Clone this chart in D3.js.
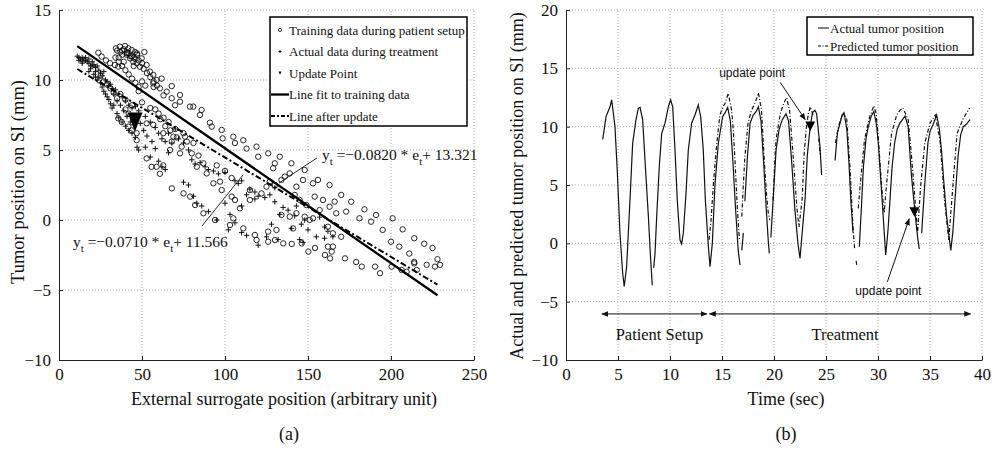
<!DOCTYPE html>
<html lang="en">
<head>
<meta charset="UTF-8">
<title>Tumor position vs surrogate</title>
<script src="https://cdn.jsdelivr.net/npm/d3@7"></script>
<style>
    body { margin: 0; background: #fff; }
    svg text { font-family: "Liberation Serif", "Times New Roman", serif; fill: #111; }
    .grid line { stroke: #999; stroke-dasharray: 1,2; stroke-width: 0.8; }
    .axis path, .axis line { stroke: #222; stroke-width: 1; }
    .axis text { font-size: 17px; }
    .sans { font-family: "Liberation Sans", Arial, sans-serif !important; }
</style>
</head>
<body>
<svg id="chart" width="994" height="450"></svg>
<script>
'use strict';

/*
 * (a) scatter of tumor position vs external surrogate, with the two fit lines
 * (b) actual vs predicted tumor position over time
 */

// ---- panel (a) data ----
const trainE = [23.7,25.7,28.3,30.7,33.7,35.7,34.3,36.7,39.8,41.8,43.8,45.8,40.8,42.8,44.8,46.8,48.8,51.4,49.8,52.8,
    54.8,56.8,58.8,61.8,56.8,60.8,64.9,67.9,67.9,72.9,72.9,69.9,78.9,80.9,84.9,85.9,90.9,92,98,98.6,
    105,106,111,113,119,120,126,133,130,129,140,148,147,153,156,163,170,176,184,191,
    201,207,214,220,225,228,229.5,226.5,221.5,214,215.5,209.4,206.4,200.4,193.4,190.4,182.4,179,172.3,163.3,
    164.3,160.2,150.2,154.2,146.2,140.2,135.1,130.1,126,119,118,111,103,105,94,87,82,79,75,68,
    58.8,52.8,55.8,62.8,60.8,66.9,72.9,73.9,75.9,68.9,62.8,56.8,52.8,46.8,46.8,43.8,35.7,37.8,41.8,67.9,
    81,80,83,87,89,93,97,98,104,106,109,115,115,122,125,130,127,136,139,134,
    143,142,145,149,154,159,163,166,167,157,153,148,143,139,134,131,126,141,151,162,
    165,170,165,162,173,181,188,195,200,205,211,214,37,40,44,48,50,55,60,63,
    66,70,75,57,63,38,41,36,44,47,39,45,
    35,37,38,39,41,42,43,45,46,47,48,50,51,53,55,57,59,34,36,38,
    40,42,44,46,48,50,52,25,27,29,31,33,35,40,42,58,61,64,67,71,
    77,84,95,100,104];
const trainV = [11.95,11.67,11.4,11.2,11.07,10.95,12.26,12.38,12.43,12.26,12.14,12.0,11.8,11.55,11.3,11.2,10.95,12.0,11.55,11.07,
    10.6,10.36,10.0,10.1,9.76,9.4,9.17,9.57,8.7,8.93,8.45,8.2,8.1,8.1,7.5,7.86,6.95,6.67,6.43,5.83,
    5.95,5.5,5.7,5.1,5.24,4.52,4.76,4.52,4.05,3.7,4.05,3.57,2.86,2.62,2.86,2.5,1.79,1.31,0.76,0.36,
    0.12,-0.67,-1.3,-1.7,-2.0,-2.8,-3.2,-3.33,-3.2,-3.0,-3.57,-3.7,-3.57,-3.33,-3.8,-3.33,-3.33,-3.0,-2.74,-2.74,
    -2.26,-2.5,-2.26,-2.0,-1.67,-1.71,-1.67,-1.43,-1.55,-1.43,-1.07,-0.6,-0.36,0.12,0.0,0.48,1.07,1.67,1.9,2.26,
    3.8,4.4,3.8,3.9,3.3,5.0,4.76,5.24,5.95,5.95,6.2,6.8,6.9,6.2,5.7,6.4,7.26,7.0,6.67,5.6,
    5.5,4.76,3.8,4.05,3.33,2.62,2.74,2.14,1.67,1.43,0.83,1.43,2.14,1.9,2.38,2.5,2.74,3.1,3.33,2.86,
    2.38,1.79,1.43,1.07,1.67,1.43,0.95,1.31,0.48,0.71,0.12,0.24,0.48,0.24,0.36,-0.71,-0.83,-0.6,0.0,-0.48,
    -0.95,-1.2,-1.9,-1.9,0.6,0.12,-0.12,-0.71,-1.55,-1.9,-2.4,-3.1,9.0,8.6,8.2,9.2,8.4,8.0,7.6,7.3,
    7.0,6.5,6.2,9.5,8.9,12.1,11.9,11.6,11.7,11.9,11.3,11.0,
    12.1,12.0,11.8,12.2,12.0,11.9,11.7,11.6,11.5,11.8,11.4,11.2,10.8,10.5,10.2,9.9,9.6,11.6,11.3,11.0,
    10.7,10.4,10.1,9.8,9.5,9.9,9.6,10.3,9.9,9.7,9.4,9.1,8.7,7.9,7.6,7.9,7.2,6.7,6.4,5.9,
    5.6,4.6,3.9,3.5,3.0];

const treatE = [11,12,13,14,15,16,17,18,19,20,21,22,23,24,25,24,25,26,27,28,
    29,30,31,32,33,35,36,38,40,42,44,46,47,48,28,30,32,34,36,38,
    40,42,44,46,48,52,55,58,60,62,64,52,55,60,62,64,58,66,70,72,
    75,78,80,82,85,88,90,93,96,100,75,78,81,83,86,90,103,106,108,110,
    115,118,120,124,127,130,135,138,143,140,146,150,155,160,165,162,102,110,113,120,
    125,128,132,145,147,133,142,148,157,160,110,113,118,130,100,106,95,14,18,22,
    12,14,16,18,20,22,19,21,23,26,27,29,31,33,35,37,39,41,43,45,
    49,51,53,56,66,68];
const treatV = [11.7,11.6,11.5,11.6,11.5,11.4,11.3,11.2,11.0,11.3,11.1,10.9,11.0,10.7,10.5,10.2,9.8,9.5,9.2,9.0,
    8.8,8.6,8.3,8.0,8.2,7.6,7.3,7.0,6.7,6.4,6.2,5.9,5.2,5.0,10.0,9.6,9.4,9.3,9.0,8.8,
    8.5,8.2,8.0,8.1,7.8,7.4,7.0,6.6,6.2,5.8,5.6,5.2,4.5,4.2,3.8,3.6,5.1,4.8,6.5,5.8,
    5.5,5.0,4.3,4.0,4.1,3.8,3.6,3.5,3.3,3.4,2.7,2.5,1.7,1.2,1.0,0.6,0.4,2.8,2.6,2.8,
    2.2,2.0,1.7,1.6,1.8,1.3,0.9,0.7,1.0,-0.6,-0.3,-0.7,-1.2,-1.3,-1.2,-0.8,-0.7,-0.9,-1.1,-1.8,
    -1.2,-0.3,-1.4,-1.4,-1.6,0.4,0.3,0.0,0.2,-0.5,1.0,1.8,1.5,2.3,1.2,-0.2,0.0,11.2,10.6,10.2,
    11.4,11.3,11.6,11.5,11.0,10.6,10.8,10.4,10.0,10.3,10.6,9.9,9.7,9.0,8.5,8.2,7.8,7.4,7.0,6.8,
    6.9,6.4,6.0,5.6,6.2,5.5];

const updatePointA = [45.8, 7.0];
const fitRange = [11, 228];
const fitTraining = [-0.0820, 13.321];  // slope, intercept
const fitUpdated = [-0.0710, 11.566];

const xTicksA = [0, 50, 100, 150, 200, 250];
const yTicksA = [-10, -5, 0, 5, 10, 15];

// ---- panel (b) data (null = gap in the trace) ----
const actualTime = [3.53,3.85,4.23,4.39,4.71,4.94,5.19,5.45,5.6,5.83,6.15,6.41,6.73,6.96,7.12,7.37,7.63,7.92,8.14,8.3,
    8.36,8.43,8.56,8.72,8.97,9.2,9.52,9.84,10.06,10.26,10.48,10.7,10.96,11.12,11.28,11.54,11.76,12.08,12.4,12.72,
    12.95,13.2,13.4,13.69,13.85,14.07,14.33,14.65,15.06,15.3,15.55,15.8,16.05,16.3,16.55,16.73,16.8,16.9,17.05,17.12,
    17.2,17.45,17.7,18.0,18.3,18.5,18.75,19.0,19.25,19.45,19.55,19.62,19.7,19.9,20.2,20.5,20.8,21.15,21.4,21.7,
    22.0,22.3,22.5,22.7,22.98,23.2,23.46,23.7,23.94,24.1,24.42,24.58,25.0,25.87,26.1,26.35,26.55,26.73,27.0,27.2,
    27.4,27.6,27.9,28.2,28.4,28.6,28.85,29.07,29.35,29.6,29.85,30.03,30.3,30.5,30.74,30.95,31.15,31.35,31.6,31.85,
    32.1,32.35,32.6,32.9,33.2,33.56,33.8,33.97,34.08,34.2,34.5,34.8,35.0,35.3,35.64,35.9,36.1,36.35,36.6,37.0,
    37.2,37.4,37.7,37.95,38.2,38.5,38.85];
const actualPos = [8.9,10.86,11.7,12.3,10.0,6.0,0.86,-2.57,-3.7,-2.0,3.7,8.6,10.6,11.57,11.66,10.6,6.6,2.3,-1.4,-3.6,
    null,-2.1,-0.86,2.3,6.6,9.4,10.3,11.7,12.3,11.7,8.0,3.7,0.3,-0.06,0.86,4.3,8.0,10.3,11.0,11.86,
    10.86,8.0,3.7,-0.29,-2.0,0.0,5.1,8.6,10.86,11.2,11.66,10.5,7.0,3.0,-0.5,-1.86,null,-0.6,0.9,null,
    3.6,7.5,10.3,11.0,11.3,11.7,10.5,7.0,3.0,0.2,-0.86,null,0.5,3.5,8.0,9.8,10.6,11.1,10.5,7.0,
    3.0,0.0,-1.3,0.8,3.7,7.5,9.86,11.2,11.4,11.1,8.3,5.86,null,7.1,9.5,10.3,11.0,11.2,9.8,7.0,
    3.5,0.9,null,-0.3,3.0,6.6,9.0,10.0,10.9,11.3,10.2,8.6,5.0,2.3,-1.0,1.0,3.7,6.5,8.6,9.8,
    10.3,10.6,10.9,10.0,6.0,2.6,0.6,-0.5,null,0.86,5.1,8.6,9.6,10.2,11.0,9.8,8.0,5.0,2.3,-0.6,
    1.0,3.7,7.5,9.3,10.0,10.2,10.6];

const predictedTime = [13.75,13.95,14.17,14.5,14.8,15.1,15.3,15.6,15.93,16.1,16.25,16.47,16.67,16.78,16.9,17.05,17.2,17.5,17.8,18.0,
    18.25,18.5,18.8,19.1,19.3,19.45,19.6,19.75,19.9,20.05,20.2,20.6,20.9,21.2,21.5,21.85,22.2,22.4,22.7,22.9,
    23.1,23.3,23.5,23.8,24.0,24.3,24.45,25.0,25.9,26.2,26.45,26.7,27.0,27.3,27.6,27.75,27.82,27.9,27.97,28.03,
    28.1,28.3,28.7,29.2,29.6,29.8,30.0,30.35,30.6,30.8,31.3,31.8,32.1,32.4,32.9,33.2,33.56,33.8,34.1,34.5,
    35.0,35.5,35.96,36.4,36.8,37.2,37.6,38.2,38.8];
const predictedPos = [0.3,2.0,5.1,8.6,11.0,11.7,12.0,12.86,11.4,9.5,7.1,3.1,0.3,null,2.3,5.0,7.4,10.3,11.3,11.7,
    12.2,12.9,11.4,6.6,4.0,2.6,2.0,null,3.7,6.5,8.9,11.1,11.9,12.5,11.4,7.4,3.1,1.4,3.7,7.7,
    9.8,11.1,11.7,10.9,null,9.0,7.5,null,8.6,10.0,10.8,11.1,10.6,6.6,1.4,-0.5,null,-1.5,-2.0,null,
    3.0,5.1,8.86,10.86,11.8,11.2,9.4,4.86,2.6,4.86,9.4,11.0,11.4,11.6,10.6,7.7,3.7,0.86,4.9,8.6,
    10.3,11.0,8.86,3.7,0.3,4.9,9.4,10.7,11.6];

const updatePointsB = [[23.48, 10.05], [33.5, 2.7]];
const phaseSpans = [[3.45, 13.55, 'Patient Setup'], [13.8, 38.9, 'Treatment']];

const xTicksB = [0, 5, 10, 15, 20, 25, 30, 35, 40];
const yTicksB = [-10, -5, 0, 5, 10, 15, 20];

// ---- drawing ----
const svg = d3.select('#chart');

const defs = svg.append('defs');
defs.append('marker')
    .attr('id', 'arrow')
    .attr('viewBox', '0 0 10 10')
    .attr('refX', 9).attr('refY', 5)
    .attr('markerWidth', 7).attr('markerHeight', 7)
    .attr('markerUnits', 'userSpaceOnUse')
    .attr('orient', 'auto-start-reverse')
    .append('path')
    .attr('d', 'M0,1 L10,5 L0,9 Z')
    .attr('fill', '#111');

function drawFrame(g, x, y, xTicks, yTicks) {
    const [x0, x1] = x.range();
    const [y0, y1] = y.range();

    g.append('g').attr('class', 'grid')
        .selectAll('line.v').data(xTicks.slice(1)).join('line')
        .attr('x1', d => x(d)).attr('x2', d => x(d))
        .attr('y1', y0).attr('y2', y1);
    g.append('g').attr('class', 'grid')
        .selectAll('line.h').data(yTicks.slice(1)).join('line')
        .attr('x1', x0).attr('x2', x1)
        .attr('y1', d => y(d)).attr('y2', d => y(d));

    g.append('g').attr('class', 'axis')
        .attr('transform', `translate(0,${y0})`)
        .call(d3.axisBottom(x).tickValues(xTicks).tickSizeInner(-4).tickSizeOuter(0).tickPadding(7))
        .selectAll('text').attr('dy', '0.75em');
    g.append('g').attr('class', 'axis')
        .attr('transform', `translate(${x0},0)`)
        .call(d3.axisLeft(y).tickValues(yTicks).tickSizeInner(-4).tickSizeOuter(0).tickPadding(8));
}

// ===== panel (a) =====
const xA = d3.scaleLinear().domain([0, 250]).range([59, 474]);
const yA = d3.scaleLinear().domain([-10, 15]).range([360, 10]);
const gA = svg.append('g');
drawFrame(gA, xA, yA, xTicksA, yTicksA);

gA.append('g').selectAll('circle').data(trainE).join('circle')
    .attr('cx', d => xA(d))
    .attr('cy', (d, i) => yA(trainV[i]))
    .attr('r', 2.7)
    .attr('fill', 'none').attr('stroke', '#111').attr('stroke-width', 0.9);

gA.append('g').selectAll('path').data(treatE).join('path')
    .attr('transform', (d, i) => `translate(${xA(d)},${yA(treatV[i])})`)
    .attr('d', 'M-2.7,0H2.7M0,-2.7V2.7')
    .attr('stroke', '#111').attr('stroke-width', 1);

const fitLine = d3.line().x(d => xA(d[0])).y(d => yA(d[1]));
const fitPts = f => fitRange.map(e => [e, f[0] * e + f[1]]);

gA.append('path').attr('d', fitLine(fitPts(fitTraining)))
    .attr('fill', 'none').attr('stroke', '#000').attr('stroke-width', 2.3);
gA.append('path').attr('d', fitLine(fitPts(fitUpdated)))
    .attr('fill', 'none').attr('stroke', '#000').attr('stroke-width', 2)
    .attr('stroke-dasharray', '6,2.5,2,2.5');

gA.append('path')
    .attr('transform', `translate(${xA(updatePointA[0])},${yA(updatePointA[1])})`)
    .attr('d', 'M-7.5,-9.5L7.5,-9.5L0,9.5Z')
    .attr('fill', '#000');

// equation labels
function equation(g, x, y, slope, icpt) {
    const t = g.append('text').attr('x', x).attr('y', y).style('font-size', '15.5px');
    t.append('tspan').text('y');
    t.append('tspan').attr('dy', 5).style('font-size', '11px').text('t');
    t.append('tspan').attr('dy', -5).text(` =${slope} * e`);
    t.append('tspan').attr('dy', 5).style('font-size', '11px').text('t');
    t.append('tspan').attr('dy', -5).text(`+ ${icpt}`);
}
equation(gA, xA(158.4), yA(4.3), '\u22120.0820', '13.321');
equation(gA, xA(8.4), yA(-1.9), '\u22120.0710', '11.566');

gA.append('line')
    .attr('x1', xA(155.4)).attr('y1', yA(4.43)).attr('x2', xA(132.5)).attr('y2', yA(2.64))
    .attr('stroke', '#111').attr('stroke-width', 0.9);
gA.append('line')
    .attr('x1', xA(86.1)).attr('y1', yA(-0.43)).attr('x2', xA(110.8)).attr('y2', yA(3.21))
    .attr('stroke', '#111').attr('stroke-width', 0.9);

// legend (a)
const legA = gA.append('g').attr('transform', 'translate(270,17)');
legA.append('rect').attr('width', 197).attr('height', 109)
    .attr('fill', '#fff').attr('stroke', '#000').attr('stroke-width', 1.5);
const legAItems = ['Training data during patient setup', 'Actual data during treatment', 'Update Point',
    'Line fit to training data', 'Line after update'];
legAItems.forEach((label, i) => {
    const cy = 13 + i * 21.5;
    legA.append('text').attr('x', 19).attr('y', cy + 4.5).style('font-size', '13px').text(label);
    if (i === 0) {
        legA.append('circle').attr('cx', 10).attr('cy', cy).attr('r', 1.6)
            .attr('fill', 'none').attr('stroke', '#000').attr('stroke-width', 0.8);
    } else if (i === 1) {
        legA.append('path').attr('d', `M8.5,${cy}H11.5M10,${cy - 1.5}V${cy + 1.5}`)
            .attr('stroke', '#000').attr('stroke-width', 0.9);
    } else if (i === 2) {
        legA.append('path').attr('d', `M8.5,${cy - 1.5}L11.5,${cy - 1.5}L10,${cy + 1.8}Z`).attr('fill', '#000');
    } else {
        legA.append('line').attr('x1', 1).attr('x2', 19).attr('y1', cy).attr('y2', cy)
            .attr('stroke', '#000').attr('stroke-width', i === 3 ? 2.3 : 2)
            .attr('stroke-dasharray', i === 3 ? null : '4,2,2,2');
    }
});

svg.append('text').attr('x', 284).attr('y', 405).attr('text-anchor', 'middle')
    .style('font-size', '18px').text('External surrogate position (arbitrary unit)');
svg.append('text').attr('transform', 'translate(24,182) rotate(-90)').attr('text-anchor', 'middle')
    .style('font-size', '18.5px').text('Tumor position on SI (mm)');
svg.append('text').attr('x', 289).attr('y', 440).attr('text-anchor', 'middle')
    .style('font-size', '18px').text('(a)');

// ===== panel (b) =====
const xB = d3.scaleLinear().domain([0, 40]).range([566, 982]);
const yB = d3.scaleLinear().domain([-10, 20]).range([360, 10]);
const gB = svg.append('g');
drawFrame(gB, xB, yB, xTicksB, yTicksB);

const traceLine = d3.line()
    .defined(d => d[1] !== null)
    .x(d => xB(d[0])).y(d => yB(d[1]));

gB.append('path')
    .attr('d', traceLine(predictedTime.map((t, i) => [t, predictedPos[i]])))
    .attr('fill', 'none').attr('stroke', '#111').attr('stroke-width', 1.2)
    .attr('stroke-dasharray', '4,2,1,2');
gB.append('path')
    .attr('d', traceLine(actualTime.map((t, i) => [t, actualPos[i]])))
    .attr('fill', 'none').attr('stroke', '#111').attr('stroke-width', 1.2);

gB.append('g').selectAll('path').data(updatePointsB).join('path')
    .attr('transform', d => `translate(${xB(d[0])},${yB(d[1])})`)
    .attr('d', 'M-5,-4.5L5,-4.5L0,5Z')
    .attr('fill', '#000');

// update point notes
const notes = [
    { text: [17.9, 14.25], from: [20.6, 13.8], to: [23.0, 10.6] },
    { text: [31.0, -4.4], from: [30.9, -3.3], to: [33.0, 2.1] }
];
notes.forEach(n => {
    gB.append('text').attr('class', 'sans').attr('x', xB(n.text[0])).attr('y', yB(n.text[1]))
        .attr('text-anchor', 'middle').style('font-size', '12px').text('update point');
    gB.append('line')
        .attr('x1', xB(n.from[0])).attr('y1', yB(n.from[1]))
        .attr('x2', xB(n.to[0])).attr('y2', yB(n.to[1]))
        .attr('stroke', '#111').attr('stroke-width', 1)
        .attr('marker-end', 'url(#arrow)');
});

// phase arrows
phaseSpans.forEach(s => {
    gB.append('line')
        .attr('x1', xB(s[0])).attr('x2', xB(s[1]))
        .attr('y1', yB(-6.05)).attr('y2', yB(-6.05))
        .attr('stroke', '#111').attr('stroke-width', 1)
        .attr('marker-start', 'url(#arrow)').attr('marker-end', 'url(#arrow)');
    gB.append('text').attr('x', xB(s[0] + (s[1] - s[0]) / 2) + 5)
        .attr('y', yB(-8.3)).attr('text-anchor', 'middle')
        .style('font-size', '16.5px').text(s[2]);
});

// legend (b)
const legB = gB.append('g').attr('transform', 'translate(807,17)');
legB.append('rect').attr('width', 166).attr('height', 38)
    .attr('fill', '#fff').attr('stroke', '#000').attr('stroke-width', 1.5);
['Actual tumor position', 'Predicted tumor position'].forEach((label, i) => {
    const cy = 11 + i * 18;
    legB.append('line').attr('x1', 11).attr('x2', 22).attr('y1', cy).attr('y2', cy)
        .attr('stroke', '#000').attr('stroke-width', 1)
        .attr('stroke-dasharray', i === 0 ? null : '3,1.5,1,1.5');
    legB.append('text').attr('x', 23).attr('y', cy + 4.5).style('font-size', '13px').text(label);
});

svg.append('text').attr('x', 786).attr('y', 405).attr('text-anchor', 'middle')
    .style('font-size', '18px').text('Time (sec)');
svg.append('text').attr('transform', 'translate(523,186) rotate(-90)').attr('text-anchor', 'middle')
    .style('font-size', '18px').text('Actual and predicted tumor position on SI (mm)');
svg.append('text').attr('x', 786).attr('y', 440).attr('text-anchor', 'middle')
    .style('font-size', '18px').text('(b)');
</script>
</body>
</html>
